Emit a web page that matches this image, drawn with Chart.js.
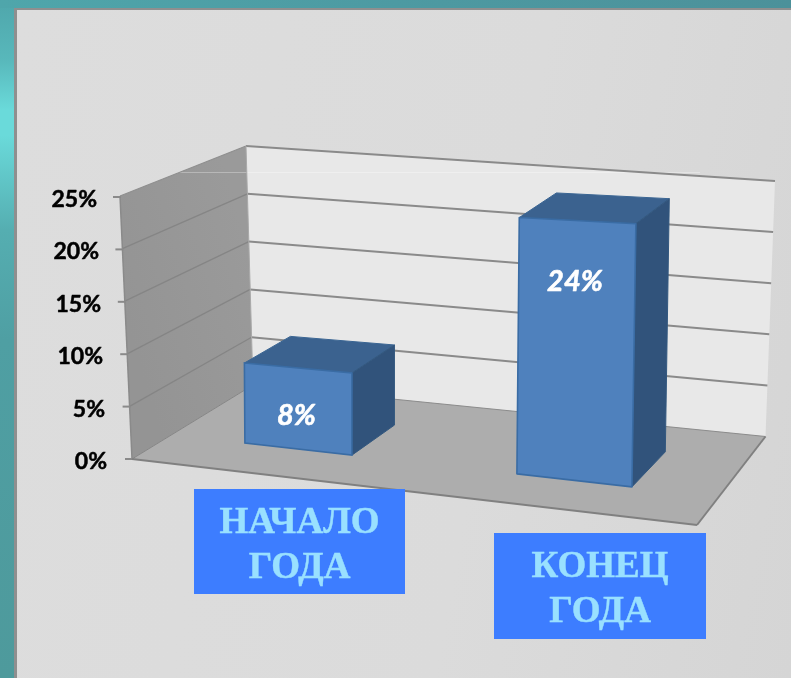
<!DOCTYPE html>
<html>
<head>
<meta charset="utf-8">
<style>
html,body{margin:0;padding:0;width:791px;height:678px;overflow:hidden;background:linear-gradient(180deg,#4fa6ab 0px,#58b8bb 60px,#6adada 110px,#6adada 135px,#55aeb1 230px,#4f9fa3 340px,#4e9a9c 678px);}
#top{position:absolute;left:0;top:0;width:791px;height:8px;background:linear-gradient(90deg,#4fa6ab,#4d9aa2 50%,#4c919a);}
#panel{position:absolute;left:14px;top:8px;width:777px;height:670px;box-sizing:border-box;border-left:3px solid #8f8f8f;border-top:2px solid #8f8f8f;background:linear-gradient(100deg,#dddddd 0%,#dbdbdb 60%,#d5d5d5 100%);}
canvas{position:absolute;left:0;top:0;}
</style>
</head>
<body>
<div id="top"></div>
<div id="panel"></div>
<canvas id="c" width="791" height="678"></canvas>
<script src="https://cdn.jsdelivr.net/npm/chart.js@4"></script>
<script>
const categories = [['НАЧАЛО','ГОДА'],['КОНЕЦ','ГОДА']];
const values = [8, 24];
const axisMax = 25;
const axisStep = 5;
const valueSuffix = '%';

// Layout of the scene, kept apart from the data
const BOXES = [{x:194,y:489,w:211,h:105,base:533},{x:494,y:533,w:212,h:106,base:577}];
const LABEL_DROP = [4.7, 5.6];
const WALL = {
  frontBottom:[132,459], frontTop:[120,196],
  backBottom:[253,385], backTop:[246,146],
  rightBottom:[765.5,436.5], rightTop:[775,181],
  floorFront:[697,525]
};
const lerp=(a,b,t)=>[a[0]+(b[0]-a[0])*t,a[1]+(b[1]-a[1])*t];
function poly(ctx,pts,fill,stroke,lw){
  ctx.beginPath();pts.forEach((p,i)=>i?ctx.lineTo(p[0],p[1]):ctx.moveTo(p[0],p[1]));ctx.closePath();
  if(fill){ctx.fillStyle=fill;ctx.fill();}
  if(stroke){ctx.strokeStyle=stroke;ctx.lineWidth=lw||1;ctx.stroke();}
}
function line(ctx,a,b,c,lw){ctx.beginPath();ctx.moveTo(a[0],a[1]);ctx.lineTo(b[0],b[1]);ctx.strokeStyle=c;ctx.lineWidth=lw;ctx.stroke();}
function heavyText(ctx,s,x,y,c,w){ctx.fillStyle=c;ctx.strokeStyle=c;ctx.lineWidth=w;ctx.lineJoin='round';ctx.strokeText(s,x,y);ctx.fillText(s,x,y);}

// Perspective of the bar plane: chart x + value -> picture position
function sceneX(X){return X+1.3e-4*(X-298)*(X-574);}
function project(X,v){
  const x0=sceneX(X);
  const x=x0+v*(x0-350)*0.00059;
  const y=443+0.1135*(x0-245)-v*(10+(x0-245)*0.0025);
  return [x,y];
}
function depth(p,X,v){
  const x0=sceneX(X);
  const dx=46-(x0-245)*0.0325;
  const dy=-(30+(x0-350)*0.018)+v*(0.25+(x0-350)*0.0006);
  return [p[0]+dx,p[1]+dy];
}

const scene3d={
  id:'scene3d',
  beforeDatasetsDraw(chart){
    const ctx=chart.ctx,y=chart.scales.y,W=WALL;
    ctx.save();
    const fracOf=v=>(y.getPixelForValue(0)-y.getPixelForValue(v))/(y.getPixelForValue(0)-y.getPixelForValue(axisMax));
    // back wall
    poly(ctx,[W.backTop,W.rightTop,W.rightBottom,W.backBottom],'#e8e8e8');
    // floor
    poly(ctx,[W.frontBottom,W.backBottom,W.rightBottom,W.floorFront],'#adadad');
    // left wall
    const lg=ctx.createLinearGradient(120,300,253,260);
    lg.addColorStop(0,'#949494');lg.addColorStop(1,'#9a9a9a');
    poly(ctx,[W.frontBottom,W.frontTop,W.backTop,W.backBottom],lg);
    // faint line across the wall
    line(ctx,[180,172.5],[700,172.5],'rgba(255,255,255,0.3)',1);
    // grid lines and tick stubs
    y.ticks.forEach(t=>{
      const f=fracOf(t.value);
      const a=lerp(W.frontBottom,W.frontTop,f),b=lerp(W.backBottom,W.backTop,f),c=lerp(W.rightBottom,W.rightTop,f);
      if(t.value>0){line(ctx,b,c,'#8a8a8a',2);}
      line(ctx,a,b,t.value===axisMax?'#8f8f8f':'#858585',t.value===0?1:1.3);
      line(ctx,[a[0]-7,y.getPixelForValue(t.value)],[a[0]+1,y.getPixelForValue(t.value)],'#8a8a8a',2);
      // tick label
      ctx.font='bold 23px Lato';ctx.textAlign='right';ctx.textBaseline='alphabetic';
      heavyText(ctx,t.label,107-t.value*0.4,y.getPixelForValue(t.value)+10,'#000',0.5);
    });
    // wall edges
    line(ctx,W.frontBottom,W.frontTop,'#8a8a8a',1.5);
    line(ctx,W.backBottom,W.backTop,'#a9a9a9',1);
    line(ctx,W.backBottom,W.rightBottom,'#8c8c8c',1.2);
    line(ctx,W.frontBottom,W.floorFront,'#808080',2);
    line(ctx,W.floorFront,W.rightBottom,'#808080',2);
    ctx.restore();
  },
  beforeDatasetDraw(chart,args){
    const ctx=chart.ctx,meta=args.meta,y=chart.scales.y;
    ctx.save();
    meta.data.forEach((el,i)=>{
      const pr=el.getProps(['x','y','base','width'],true);
      const v=y.getValueForPixel(pr.y);
      const L=pr.x-pr.width/2,R=pr.x+pr.width/2;
      const fl0=project(L,0),fr0=project(R,0),flt=project(L,v),frt=project(R,v);
      const blt=depth(flt,L,v),brt=depth(frt,R,v),br0=depth(fr0,R,0);
      const front=el.options.backgroundColor;
      const edge=el.options.borderColor;
      poly(ctx,[flt,blt,brt,frt],'#3b628f','#3a6593',1);
      poly(ctx,[frt,brt,br0,fr0],'#31537b','#33587f',1);
      poly(ctx,[flt,frt,fr0,fl0],front,edge,1.6);
      const c=project(pr.x,v-LABEL_DROP[i]);
      ctx.font='italic bold 29px Lato';ctx.textAlign='center';ctx.textBaseline='middle';
      heavyText(ctx,values[i]+valueSuffix,c[0]-1.5,c[1],'#fff',0.6);
    });
    ctx.restore();
    return false;
  },
  afterDatasetsDraw(chart){
    const ctx=chart.ctx;
    ctx.save();
    chart.data.labels.forEach((lab,i)=>{
      const b=BOXES[i];
      ctx.fillStyle='#3d7dff';ctx.fillRect(b.x,b.y,b.w,b.h);
      ctx.font='bold 37px "Liberation Serif"';ctx.textAlign='center';ctx.textBaseline='alphabetic';
      lab.forEach((s,k)=>heavyText(ctx,s,b.x+b.w/2,b.base+k*44.5,'#99e0ff',0.4));
    });
    ctx.restore();
  }
};

new Chart(document.getElementById('c'),{
  type:'bar',
  data:{labels:categories,datasets:[{data:values,backgroundColor:'#4f81bd',borderColor:'#3a6ca4',barPercentage:111/276,categoryPercentage:1}]},
  options:{
    responsive:false,animation:false,devicePixelRatio:1,
    layout:{padding:{left:160,right:79,top:197,bottom:219}},
    plugins:{legend:{display:false},tooltip:{enabled:false},title:{display:false}},
    scales:{
      x:{type:'category',grid:{display:false,drawTicks:false},border:{display:false},ticks:{display:false}},
      y:{type:'linear',min:0,max:axisMax,grid:{display:false,drawTicks:false},border:{display:false},
         ticks:{display:false,stepSize:axisStep,callback:v=>v+valueSuffix}}
    }
  },
  plugins:[scene3d]
});
</script>
</body>
</html>
